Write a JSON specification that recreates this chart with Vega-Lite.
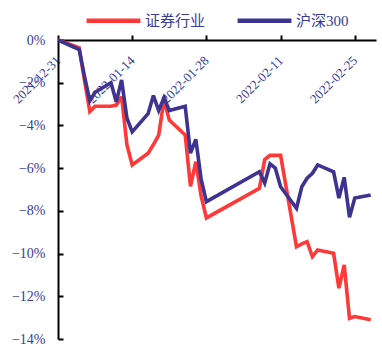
{
  "$schema": "https://vega.github.io/schema/vega-lite/v6.json",
  "width": 318,
  "height": 299,
  "autosize": "none",
  "padding": {"left": 58, "top": 40, "right": 6, "bottom": 8},
  "background": "white",
  "config": {"view": {"stroke": null}, "font": "'Liberation Serif', 'Times New Roman', serif"},
  "datasets": {
    "rows": [
      {"date": "2021-12-31T00:00:00", "series": "证券行业", "value": 0},
      {"date": "2022-01-04T00:00:00", "series": "证券行业", "value": -0.37},
      {"date": "2022-01-05T00:00:00", "series": "证券行业", "value": -1.9},
      {"date": "2022-01-06T00:00:00", "series": "证券行业", "value": -3.35},
      {"date": "2022-01-07T00:00:00", "series": "证券行业", "value": -3.1},
      {"date": "2022-01-10T00:00:00", "series": "证券行业", "value": -3.1},
      {"date": "2022-01-11T00:00:00", "series": "证券行业", "value": -3.05},
      {"date": "2022-01-12T00:00:00", "series": "证券行业", "value": -2.65},
      {"date": "2022-01-13T00:00:00", "series": "证券行业", "value": -4.9},
      {"date": "2022-01-14T00:00:00", "series": "证券行业", "value": -5.85},
      {"date": "2022-01-17T00:00:00", "series": "证券行业", "value": -5.3},
      {"date": "2022-01-18T00:00:00", "series": "证券行业", "value": -4.9},
      {"date": "2022-01-19T00:00:00", "series": "证券行业", "value": -4.45},
      {"date": "2022-01-20T00:00:00", "series": "证券行业", "value": -2.8},
      {"date": "2022-01-21T00:00:00", "series": "证券行业", "value": -3.75},
      {"date": "2022-01-24T00:00:00", "series": "证券行业", "value": -4.45},
      {"date": "2022-01-25T00:00:00", "series": "证券行业", "value": -6.85},
      {"date": "2022-01-26T00:00:00", "series": "证券行业", "value": -5.7},
      {"date": "2022-01-27T00:00:00", "series": "证券行业", "value": -7.3},
      {"date": "2022-01-28T00:00:00", "series": "证券行业", "value": -8.33},
      {"date": "2022-02-07T00:00:00", "series": "证券行业", "value": -6.94},
      {"date": "2022-02-08T00:00:00", "series": "证券行业", "value": -5.6},
      {"date": "2022-02-09T00:00:00", "series": "证券行业", "value": -5.4},
      {"date": "2022-02-10T00:00:00", "series": "证券行业", "value": -5.4},
      {"date": "2022-02-11T00:00:00", "series": "证券行业", "value": -5.4},
      {"date": "2022-02-14T00:00:00", "series": "证券行业", "value": -9.68},
      {"date": "2022-02-15T00:00:00", "series": "证券行业", "value": -9.55},
      {"date": "2022-02-16T00:00:00", "series": "证券行业", "value": -9.44},
      {"date": "2022-02-17T00:00:00", "series": "证券行业", "value": -10.14},
      {"date": "2022-02-18T00:00:00", "series": "证券行业", "value": -9.83},
      {"date": "2022-02-21T00:00:00", "series": "证券行业", "value": -9.99},
      {"date": "2022-02-22T00:00:00", "series": "证券行业", "value": -11.62},
      {"date": "2022-02-23T00:00:00", "series": "证券行业", "value": -10.53},
      {"date": "2022-02-24T00:00:00", "series": "证券行业", "value": -13.03},
      {"date": "2022-02-25T00:00:00", "series": "证券行业", "value": -12.95},
      {"date": "2022-02-28T00:00:00", "series": "证券行业", "value": -13.1},
      {"date": "2021-12-31T00:00:00", "series": "沪深300", "value": 0},
      {"date": "2022-01-04T00:00:00", "series": "沪深300", "value": -0.45},
      {"date": "2022-01-05T00:00:00", "series": "沪深300", "value": -1.7},
      {"date": "2022-01-06T00:00:00", "series": "沪深300", "value": -2.85},
      {"date": "2022-01-07T00:00:00", "series": "沪深300", "value": -2.45},
      {"date": "2022-01-10T00:00:00", "series": "沪深300", "value": -2.0},
      {"date": "2022-01-11T00:00:00", "series": "沪深300", "value": -2.9},
      {"date": "2022-01-12T00:00:00", "series": "沪深300", "value": -1.87},
      {"date": "2022-01-13T00:00:00", "series": "沪深300", "value": -3.65},
      {"date": "2022-01-14T00:00:00", "series": "沪深300", "value": -4.3},
      {"date": "2022-01-17T00:00:00", "series": "沪深300", "value": -3.45},
      {"date": "2022-01-18T00:00:00", "series": "沪深300", "value": -2.6},
      {"date": "2022-01-19T00:00:00", "series": "沪深300", "value": -3.3},
      {"date": "2022-01-20T00:00:00", "series": "沪深300", "value": -2.7},
      {"date": "2022-01-21T00:00:00", "series": "沪深300", "value": -3.3},
      {"date": "2022-01-24T00:00:00", "series": "沪深300", "value": -3.1},
      {"date": "2022-01-25T00:00:00", "series": "沪深300", "value": -5.3},
      {"date": "2022-01-26T00:00:00", "series": "沪深300", "value": -4.65},
      {"date": "2022-01-27T00:00:00", "series": "沪深300", "value": -6.5},
      {"date": "2022-01-28T00:00:00", "series": "沪深300", "value": -7.57},
      {"date": "2022-02-07T00:00:00", "series": "沪深300", "value": -6.17},
      {"date": "2022-02-08T00:00:00", "series": "沪深300", "value": -6.7},
      {"date": "2022-02-09T00:00:00", "series": "沪深300", "value": -5.8},
      {"date": "2022-02-10T00:00:00", "series": "沪深300", "value": -6.0},
      {"date": "2022-02-11T00:00:00", "series": "沪深300", "value": -6.87},
      {"date": "2022-02-14T00:00:00", "series": "沪深300", "value": -7.88},
      {"date": "2022-02-15T00:00:00", "series": "沪深300", "value": -6.87},
      {"date": "2022-02-16T00:00:00", "series": "沪深300", "value": -6.47},
      {"date": "2022-02-17T00:00:00", "series": "沪深300", "value": -6.24},
      {"date": "2022-02-18T00:00:00", "series": "沪深300", "value": -5.85},
      {"date": "2022-02-21T00:00:00", "series": "沪深300", "value": -6.17},
      {"date": "2022-02-22T00:00:00", "series": "沪深300", "value": -7.4},
      {"date": "2022-02-23T00:00:00", "series": "沪深300", "value": -6.43},
      {"date": "2022-02-24T00:00:00", "series": "沪深300", "value": -8.3},
      {"date": "2022-02-25T00:00:00", "series": "沪深300", "value": -7.4},
      {"date": "2022-02-28T00:00:00", "series": "沪深300", "value": -7.26}
    ]
  },
  "data": {"name": "rows"},
  "mark": {"type": "line", "strokeWidth": 3.6, "strokeJoin": "miter", "strokeMiterLimit": 3},
  "encoding": {
    "x": {
      "field": "date",
      "type": "temporal",
      "scale": {"domain": [{"year": 2021, "month": 12, "date": 31}, {"year": 2022, "month": 3, "date": 1}]},
      "axis": {
        "title": null,
        "orient": "bottom",
        "offset": -299,
        "values": [
          {"year": 2021, "month": 12, "date": 31},
          {"year": 2022, "month": 1, "date": 14},
          {"year": 2022, "month": 1, "date": 28},
          {"year": 2022, "month": 2, "date": 11},
          {"year": 2022, "month": 2, "date": 25}
        ],
        "format": "%Y-%m-%d",
        "grid": false,
        "labelAngle": -45,
        "labelAlign": "right",
        "labelBaseline": "middle",
        "labelFlush": false,
        "labelOverlap": false,
        "labelBound": false,
        "labelPadding": 23,
        "labelFontSize": 13,
        "labelFont": "'Liberation Serif', serif",
        "labelColor": "#3A3A9A",
        "domainColor": "black",
        "domainWidth": 2,
        "tickColor": "black",
        "tickWidth": 2,
        "tickSize": -5
      }
    },
    "y": {
      "field": "value",
      "type": "quantitative",
      "scale": {"domain": [-14, 0], "nice": false},
      "axis": {
        "title": null,
        "values": [0, -2, -4, -6, -8, -10, -12, -14],
        "labelExpr": "format(datum.value, 'd') + '%'",
        "grid": false,
        "labelPadding": 18,
        "labelFontSize": 14,
        "labelFont": "'Liberation Serif', serif",
        "labelColor": "#3A3A9A",
        "domainColor": "black",
        "domainWidth": 2,
        "tickColor": "black",
        "tickWidth": 2,
        "tickSize": -5
      }
    },
    "color": {
      "field": "series",
      "type": "nominal",
      "sort": ["证券行业", "沪深300"],
      "scale": {"domain": ["证券行业", "沪深300"], "range": ["#FF3838", "#3D3391"]},
      "legend": {
        "title": null,
        "orient": "none",
        "legendX": 26,
        "legendY": -49,
        "direction": "horizontal",
        "symbolType": "stroke",
        "symbolSize": 2900,
        "symbolStrokeWidth": 4.5,
        "labelFontSize": 15,
        "labelFont": "'Liberation Serif', 'Noto Sans CJK SC', serif",
        "labelColor": "#3A3A9A",
        "labelOffset": 2,
        "columnPadding": 22,
        "padding": 0
      }
    }
  }
}
